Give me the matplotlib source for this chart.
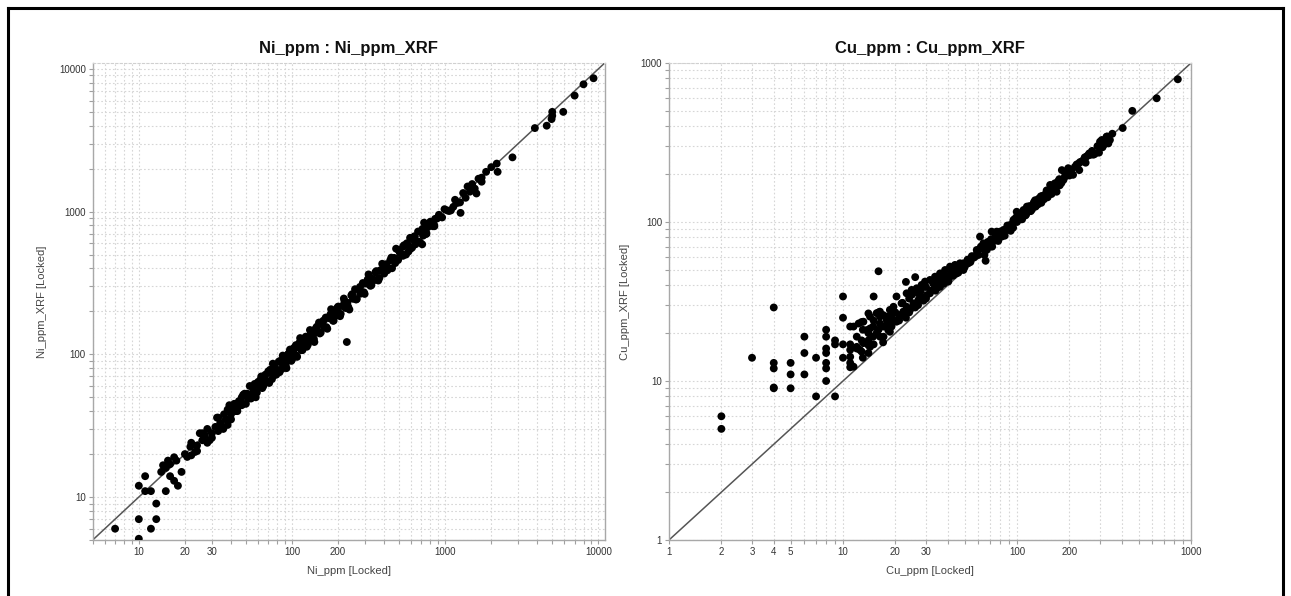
import matplotlib

matplotlib.use("Agg")
import matplotlib.pyplot as plt
from matplotlib.lines import Line2D
from matplotlib.ticker import FixedLocator, FuncFormatter, NullLocator

plt.rcParams["font.family"] = ["Liberation Sans", "DejaVu Sans"]

# Ni_ppm (lab) vs Ni_ppm_XRF
ni_x = [
    7, 10, 10, 12, 13, 13, 10, 11, 11, 12,
    15, 14, 15, 16, 16, 17, 18, 19, 17, 17.6,
    15.5, 14.4, 20, 20.7, 22, 21.7, 23.3, 25, 27, 28,
    29, 30, 31.6, 32.4, 34, 35.6, 37, 38, 40, 41,
    43, 45, 24, 26, 33, 36, 39, 44, 47, 48,
    50, 52,
    46, 48, 50, 51, 53, 55, 56, 58, 60, 61,
    63, 65, 66, 68, 70, 71, 73, 75, 76, 78,
    80, 82, 83, 85, 87, 88, 90, 92, 94, 95,
    97, 100, 102, 104, 106, 108, 110, 113, 115, 118,
    120, 123, 125, 128, 131, 134, 137, 140, 143, 146,
    150, 154, 158, 162, 166, 170, 175, 180, 185, 190,
    195, 200, 206, 212, 218, 224, 230, 237, 244, 250,
    258, 265, 273, 280, 290, 298, 307, 316, 325, 335,
    345, 355, 366, 377, 388, 400, 412, 425, 438, 450,
    465, 478, 493, 507, 522, 538, 555, 572, 590, 608,
    626, 645, 665, 685, 705, 728, 750, 772,
    22, 24, 26, 28, 30, 33, 35, 38, 40, 42,
    44, 47, 49, 54, 57, 59, 62, 64, 67, 69,
    72, 74, 77, 79, 84, 86, 89, 91, 96, 99,
    103, 107, 112, 117, 122, 127, 133, 139, 145, 152,
    160, 168, 178, 187, 197, 208, 220, 233, 247, 262,
    278, 295, 312, 330, 350, 372, 395, 420, 445, 472,
    500, 530, 562, 595, 630, 668, 710, 755, 800, 850,
    228, 620, 640, 708, 531, 576, 497, 845, 748, 719,
    830, 860, 885, 910, 955, 990, 1030, 1060, 1090, 1130,
    1160, 1200, 1250, 1260, 1310, 1360, 1400, 1450, 1500, 1560,
    1600, 1650, 1700, 1730, 1730, 1850, 2000, 2170, 2200, 2750,
    3850, 4600, 4950, 5000, 5000, 5900, 7000, 8000, 9300,
]
ni_y = [
    6, 5.1, 7, 6, 7, 9, 12, 14, 11, 11,
    11, 15, 16, 17, 14, 13, 12, 15, 19, 18,
    18, 16.7, 20, 19.1, 19.6, 22.5, 20.7, 28, 27, 24,
    25, 28, 31, 36, 33, 30, 35, 32, 38, 42,
    40, 47, 23, 25, 29, 38, 44, 42, 50, 45,
    52, 49,
    44, 52, 45, 53, 60, 52, 56, 50, 64, 60,
    70, 60, 69, 65, 76, 63, 74, 86, 71, 79,
    77, 89, 75, 88, 98, 83, 90, 80, 100, 93,
    108, 92, 106, 99, 116, 96, 112, 130, 107, 119,
    115, 133, 113, 132, 148, 126, 137, 122, 152, 143,
    167, 142, 164, 154, 181, 151, 179, 207, 172, 192,
    187, 216, 185, 218, 246, 211, 230, 206, 259, 245,
    286, 244, 284, 266, 316, 265, 313, 363, 302, 338,
    331, 383, 329, 388, 431, 368, 428, 404, 456, 401,
    474, 550, 458, 512, 501, 581, 500, 583, 655, 559,
    651, 613, 725, 610, 719, 837, 698, 780,
    24, 21, 28, 30, 26, 36, 31, 41, 35, 45,
    40, 44, 53, 49, 62, 54, 66, 58, 72, 64,
    78, 67, 83, 72, 90, 79, 96, 84, 103, 90,
    111, 98, 121, 107, 130, 117, 143, 128, 156, 140,
    172, 155, 190, 172, 211, 192, 236, 215, 264, 242,
    297, 272, 335, 305, 375, 343, 422, 388, 476, 436,
    535, 490, 600, 550, 672, 617, 756, 700, 850, 790,
    122, 637, 590, 590, 569, 525, 536, 811, 724, 679,
    790, 890, 895, 950, 910, 1040, 1020, 1010, 1020, 1080,
    1210, 1150, 1160, 980, 1350, 1250, 1500, 1380, 1560, 1450,
    1340, 1700, 1680, 1730, 1620, 1900, 2050, 2170, 1900, 2400,
    3850, 4000, 4450, 4700, 5000, 5000, 6500, 7800, 8600,
]

# Cu_ppm (lab) vs Cu_ppm_XRF
cu_x = [
    2, 2, 3, 4, 4, 4, 4, 4, 5, 5,
    5, 6, 6, 6, 7, 7, 8, 8, 8, 8,
    8, 8, 8, 9, 9, 9, 10, 10, 10, 10,
    11, 11, 11, 11, 11, 11.5, 11, 11.5, 12.3, 12,
    12.5, 12.8, 12.8, 12, 12.8, 13.1, 13.1, 13.7, 14, 14,
    14, 14, 14.3, 14.3, 14.3, 15, 14, 15.6, 16, 16.3,
    16.3, 16, 14.9, 14.9, 15.6, 16.3, 16.3, 17.1, 17.1, 17.8,
    17.8, 18.2, 18.6, 18.6, 19, 19.4, 19.5, 20.3, 20.3, 20.3,
    21.2, 21.3, 21.7, 22.2, 23, 23.2, 23.2, 23.2, 24.3, 24.8,
    25.4, 25.4, 26, 26.5, 27.1, 27.7, 28.3, 28.3, 29.6, 30.3,
    31.6, 31.6, 33, 33.8, 34.5, 34.5, 36.1, 36.1, 37.7, 38.6,
    40.3, 41.2, 41.2, 44, 44.9, 47, 49.2, 49.2, 52.5, 53.7,
    56.1, 58.7, 61.3, 64.1, 66, 67, 70, 73.1, 76.4, 81.7,
    87.3, 91.3, 95.4, 99.7, 106, 114,
    62, 65, 68, 72, 75, 78, 80, 85, 88, 92,
    95, 98,
    12, 13, 15, 15, 16, 17, 18, 19, 13, 17,
    20, 21, 22, 23, 24, 24, 25, 26, 27, 27,
    28, 29, 30, 30, 32, 33, 34, 35, 36, 37,
    38, 39, 40, 42, 43, 45, 46, 48, 50, 52,
    54, 55, 57, 59, 60, 63, 65, 69, 71, 74,
    71.5, 76.4, 79.8, 83.5, 87.3, 91.2, 95.3, 97.4, 99.6, 104,
    109, 114, 119, 124, 130, 136, 142, 145, 152, 155,
    162, 165, 169, 181, 185, 197, 202, 228, 230, 241,
    251, 263, 296, 307, 321, 327, 335, 342, 353, 405,
    460, 635, 840,
    100, 103, 107, 110, 112, 116, 120, 125, 128, 133,
    138, 140, 147, 150, 158, 172, 176, 190, 205, 210,
    220, 248, 255, 270, 280, 310, 290,
    105, 108, 113, 118, 122, 127, 132, 137, 143, 148,
    153, 160, 166, 175, 180, 188, 195, 200, 215, 225,
    235, 245, 260, 275, 300, 315, 330,
]
cu_y = [
    6, 5, 14, 29, 13, 12, 9, 9.1, 13, 11,
    9, 19, 15, 11, 14, 8, 21, 19, 16, 15,
    13, 12, 10, 18, 17, 8, 34, 25, 17, 14,
    17, 15.7, 14.2, 13, 12.2, 12.3, 22, 22, 23, 16,
    15.7, 18, 23.5, 16.4, 15.3, 23.6, 17.3, 20.9, 18, 15,
    16.8, 20, 21.4, 25.4, 16.4, 34, 26.6, 26.7, 27, 25.4,
    27.3, 49, 19, 22, 20, 23, 19, 22, 19, 24.2,
    25.4, 20.9, 28, 20.4, 22, 24.2, 29.3, 23.6, 24.2, 34,
    26, 25.4, 30.8, 27.3, 42, 29.3, 26.7, 35.6, 28, 37.4,
    30.8, 29.3, 45, 38.3, 32.3, 33.9, 33.9, 40.2, 42.2, 34.7,
    35.6, 43.2, 37.3, 45.3, 38.2, 41, 39.1, 47.5, 43.2, 49.9,
    42.2, 52.4, 45.3, 53.7, 47.5, 55, 49.9, 55, 55, 57.7,
    60.5, 66.7, 80.9, 73.4, 57, 66.7, 70, 77.1, 84.9, 80.9,
    89.1, 93.5, 103, 108, 113, 125,
    70, 62, 75, 70, 80, 76, 85, 82, 95, 88,
    92, 102,
    19, 21, 24, 17, 21, 26, 23, 26, 14, 17.5,
    27, 24, 31, 25, 33, 27, 35, 29, 36, 30,
    37, 32, 39, 33, 37, 41, 37, 43, 40, 45,
    41, 46, 44, 48, 46, 51, 48, 53, 52, 58,
    56, 61, 60, 64, 62, 68, 72, 73, 78, 76,
    87, 87, 87, 89.1, 91.2, 95.7, 100, 105, 116, 111,
    119, 116, 122, 128, 131, 134, 141, 148, 155, 171,
    163, 175, 155, 212, 184, 218, 207, 212, 238, 245,
    258, 264, 273, 328, 320, 344, 312, 328, 359, 390,
    500, 600, 790,
    100, 108, 104, 118, 110, 122, 117, 133, 125, 140,
    132, 146, 152, 143, 150, 180, 170, 198, 210, 198,
    230, 236, 262, 280, 268, 295, 300,
    104, 114, 112, 126, 120, 137, 129, 145, 139, 158,
    149, 170, 162, 186, 176, 192, 205, 196, 222, 232,
    240, 255, 270, 265, 320, 305, 345,
]

ni_lims = (5, 11000)
cu_lims = (1, 1000)
ni_x_labels = [10, 20, 30, 100, 200, 1000, 10000]
ni_y_labels = [10, 100, 1000, 10000]
cu_x_labels = [1, 2, 3, 4, 5, 10, 20, 30, 100, 200, 1000]
cu_y_labels = [1, 10, 100, 1000]

W, H = 1291, 596


def log_ticks(lo, hi):
    out = []
    for e in range(-1, 6):
        for m in range(1, 10):
            v = m * 10 ** e
            if lo <= v <= hi:
                out.append(v)
    return out


def style_axis(axis, lims, labelled):
    axis.set_major_locator(FixedLocator(log_ticks(*lims)))
    axis.set_minor_locator(NullLocator())
    keep = set(labelled)
    axis.set_major_formatter(FuncFormatter(lambda v, pos: f"{v:g}" if round(v) in keep else ""))


def draw_panel(ax, x, y, lims, xl, yl, title, xlabel, ylabel, ylabel_x):
    ax.set_xscale("log")
    ax.set_yscale("log")
    ax.plot(lims, lims, color="#555555", lw=1.1, zorder=2)
    ax.scatter(x, y, s=32, color="black", edgecolors="none", zorder=3)
    ax.set_xlim(lims)
    ax.set_ylim(lims)
    style_axis(ax.xaxis, lims, xl)
    style_axis(ax.yaxis, lims, yl)
    ax.grid(True, which="major", color="#d6d6d6", lw=0.8, ls=(0, (1.5, 2)))
    ax.set_axisbelow(True)
    ax.tick_params(which="major", length=3, width=0.8, color="#a0a0a0",
                   labelsize=7, labelcolor="#333333", pad=2)
    for side in ("left", "bottom", "right"):
        ax.spines[side].set_color("#a8a8a8")
        ax.spines[side].set_linewidth(1.0)
    ax.spines["top"].set_color("#d0d0d0")
    ax.spines["top"].set_linestyle((0, (2, 2)))
    ax.set_xlabel(xlabel, fontsize=8, color="#444444")
    ax.set_ylabel(ylabel, fontsize=8, color="#444444")
    ax.xaxis.set_label_coords(0.5, -0.055)
    ax.yaxis.set_label_coords(ylabel_x, 0.5)
    ax.text(0.5, 1.031, title, transform=ax.transAxes, ha="center", va="center",
            fontsize=12, fontweight="bold", color="#111111")


fig = plt.figure(figsize=(W / 100, H / 100), dpi=100)
ax1 = fig.add_axes([92.7 / W, (H - 540) / H, 512 / W, 477 / H])
ax2 = fig.add_axes([669 / W, (H - 540) / H, 522 / W, 477 / H])

draw_panel(ax1, ni_x, ni_y, ni_lims, ni_x_labels, ni_y_labels,
           "Ni_ppm : Ni_ppm_XRF", "Ni_ppm [Locked]", "Ni_ppm_XRF [Locked]", -0.09)
draw_panel(ax2, cu_x, cu_y, cu_lims, cu_x_labels, cu_y_labels,
           "Cu_ppm : Cu_ppm_XRF", "Cu_ppm [Locked]", "Cu_ppm_XRF [Locked]", -0.075)

# outer frame (open at the bottom, as in the screenshot)
for xs, ys in [((8, 8), (0, H - 8)), ((8, 1283), (H - 8, H - 8)), ((1283, 1283), (H - 8, 0))]:
    fig.add_artist(Line2D([v / W for v in xs], [v / H for v in ys], color="black", lw=2.2))

fig.savefig("out.png", dpi=100)
